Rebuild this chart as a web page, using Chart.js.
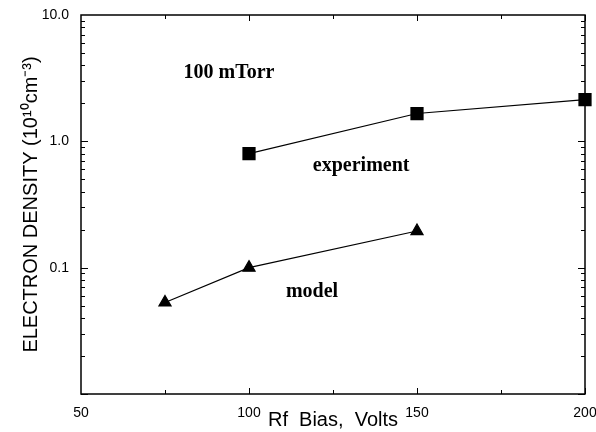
<!DOCTYPE html>
<html>
<head>
<meta charset="utf-8">
<script src="https://cdn.jsdelivr.net/npm/chart.js@4"></script>
<style>
  html, body { margin: 0; padding: 0; background: #fff; }
  #wrap { width: 596px; height: 432px; }
</style>
</head>
<body>
<div id="wrap"><canvas id="densityChart"></canvas></div>
<script>
// values
const expBias = [100, 150, 200];
const expDensity = [0.80, 1.66, 2.14];
const modelBias = [75, 100, 150];
const modelDensity = [0.053, 0.10, 0.195];
const yLabels = { 10: '10.0', 1: '1.0', 0.1: '0.1' };
const xMinor = [75, 125, 175];

// inward ticks on all four sides plus the frame
const frameTicks = {
    id: 'frameTicks',
    afterDatasetsDraw(chart) {
        const { ctx, chartArea: a, scales: { x, y } } = chart;
        ctx.save();
        ctx.strokeStyle = '#000';
        ctx.lineWidth = 1.5;
        ctx.strokeRect(a.left, a.top, a.right - a.left, a.bottom - a.top);
        ctx.lineWidth = 1;
        ctx.beginPath();
        [100, 150, 200].concat(xMinor).forEach(v => {
            const px = Math.round(x.getPixelForValue(v)) + 0.5;
            const len = xMinor.includes(v) ? 4 : 6;
            ctx.moveTo(px, a.bottom); ctx.lineTo(px, a.bottom - len);
            ctx.moveTo(px, a.top); ctx.lineTo(px, a.top + len);
        });
        for (let e = -2; e < 1; e++) {
            for (let m = 1; m < 10; m++) {
                const v = m * Math.pow(10, e);
                const py = Math.round(y.getPixelForValue(v)) + 0.5;
                const len = m === 1 ? 7 : 4;
                ctx.moveTo(a.left, py); ctx.lineTo(a.left + len, py);
                ctx.moveTo(a.right, py); ctx.lineTo(a.right - len, py);
            }
        }
        ctx.stroke();

        ctx.fillStyle = '#000';
        ctx.font = 'bold 20px "Liberation Serif", "Times New Roman", serif';
        ctx.textBaseline = 'middle';
        ctx.textAlign = 'left';
        ctx.fillText('100 mTorr', x.getPixelForValue(80.5), y.getPixelForValue(3.5));
        ctx.fillText('experiment', x.getPixelForValue(119), y.getPixelForValue(0.64));
        ctx.fillText('model', x.getPixelForValue(111), y.getPixelForValue(0.064));
        ctx.restore();
    }
};

new Chart(document.getElementById('densityChart').getContext('2d'), {
    type: 'line',
    data: {
        datasets: [{
            label: 'experiment',
            data: expBias.map((b, i) => ({ x: b, y: expDensity[i] })),
            borderColor: '#000',
            backgroundColor: '#000',
            borderWidth: 1.2,
            pointStyle: 'rect',
            pointRadius: 8.5,
            pointHoverRadius: 8.5,
            clip: false,
            tension: 0
        }, {
            label: 'model',
            data: modelBias.map((b, i) => ({ x: b, y: modelDensity[i] })),
            borderColor: '#000',
            backgroundColor: '#000',
            borderWidth: 1.2,
            pointStyle: 'triangle',
            pointRadius: 7,
            pointHoverRadius: 7,
            clip: false,
            tension: 0
        }]
    },
    options: {
        responsive: true,
        maintainAspectRatio: false,
        animation: false,
        layout: { padding: { top: 15, right: 11, left: 0, bottom: 0 } },
        plugins: {
            legend: { display: false },
            tooltip: { enabled: false }
        },
        scales: {
            x: {
                type: 'linear',
                min: 50,
                max: 200,
                grid: { display: false },
                border: { display: false },
                afterFit: s => { s.height = 38; s.paddingLeft = 0; s.paddingRight = 0; },
                ticks: {
                    stepSize: 50,
                    maxRotation: 0,
                    padding: 3,
                    color: '#000',
                    font: { family: '"Liberation Sans", Arial, sans-serif', size: 14 }
                },
                title: {
                    display: true,
                    text: 'Rf  Bias,  Volts',
                    color: '#000',
                    padding: { top: -4, bottom: 0 },
                    font: { family: '"Liberation Sans", Arial, sans-serif', size: 20 }
                }
            },
            y: {
                type: 'logarithmic',
                min: 0.01,
                max: 10,
                grid: { display: false },
                border: { display: false },
                afterFit: s => { s.width = 81; s.paddingTop = 0; s.paddingBottom = 0; },
                ticks: {
                    autoSkip: false,
                    padding: 4,
                    color: '#000',
                    font: { family: '"Liberation Sans", Arial, sans-serif', size: 14 },
                    callback: v => yLabels[v] || ''
                },
                title: {
                    display: true,
                    text: 'ELECTRON DENSITY (10\u00B9\u2070cm\u207B\u00B3)',
                    color: '#000',
                    padding: { top: 19, bottom: 0 },
                    font: { family: '"Liberation Sans", Arial, sans-serif', size: 20 }
                }
            }
        }
    },
    plugins: [frameTicks]
});
</script>
</body>
</html>
